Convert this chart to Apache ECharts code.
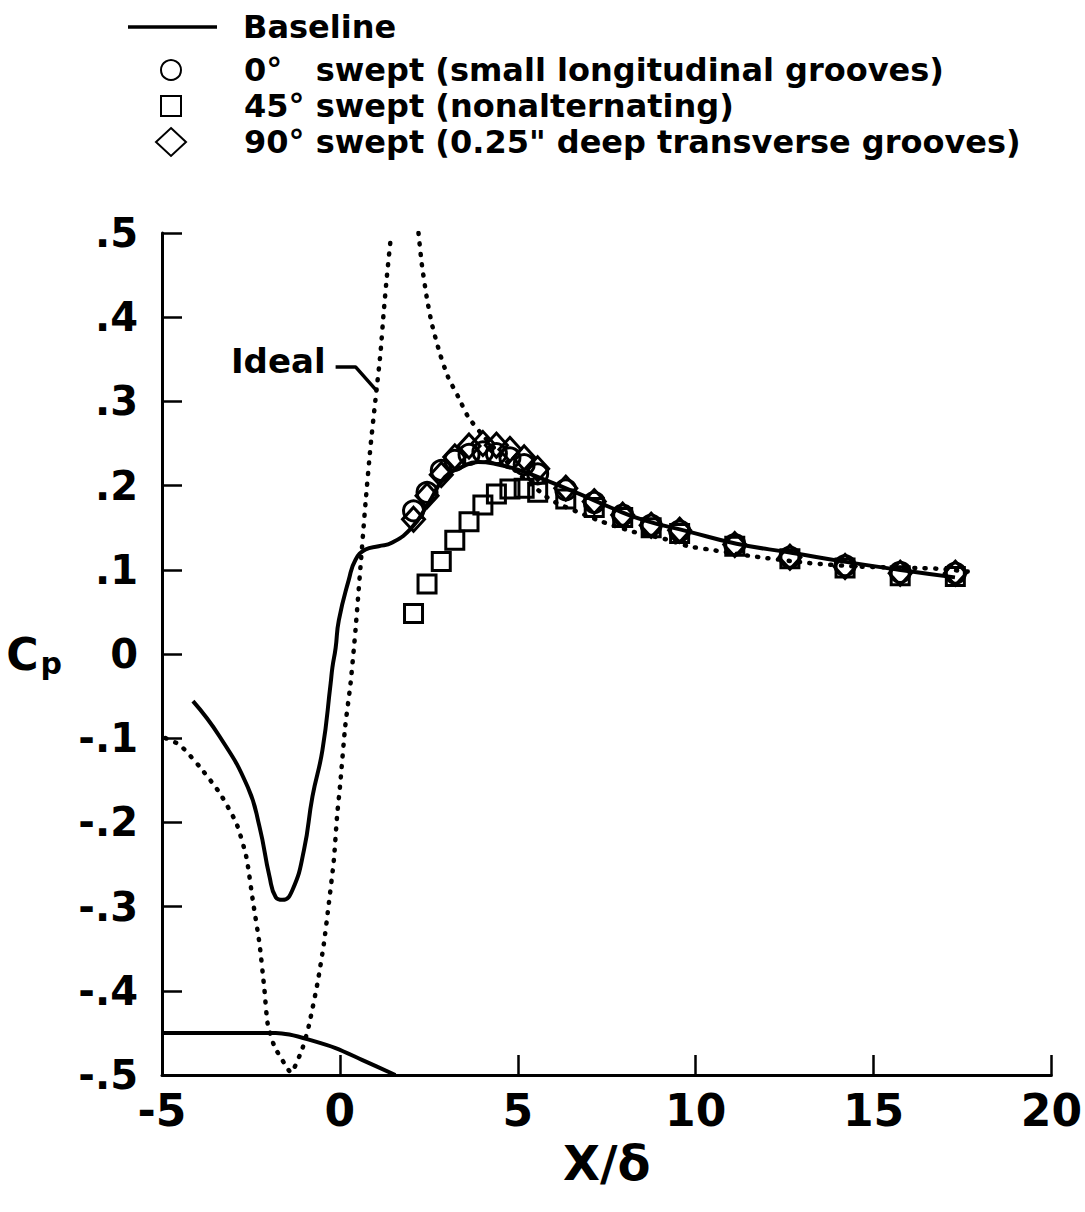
<!DOCTYPE html>
<html>
<head>
<meta charset="utf-8">
<script src="https://cdn.jsdelivr.net/npm/echarts@6/dist/echarts.min.js"></script>
<style>
html,body{margin:0;padding:0;background:#fff;}
#chart{width:1085px;height:1212px;}
</style>
</head>
<body>
<div id="chart"></div>
<script>
// ---- data ----
const xTickLabels = ['-5', '0', '5', '10', '15', '20'];
const yTickLabels = ['-.5', '-.4', '-.3', '-.2', '-.1', '0', '.1', '.2', '.3', '.4', '.5'];

const baselineX = [-4.13, -3.38, -2.59, -2.26, -1.98, -1.80, -1.61, -1.33, -1.01, -0.77, -0.49, -0.26, -0.21, -0.12, -0.03, 0.25, 0.44, 0.72, 1.09, 1.46, 2.02, 2.49, 2.95, 3.42, 3.88, 4.35, 5.0, 5.75, 6.68, 7.61, 8.54, 9.75, 11.15, 12.73, 14.13, 15.71, 17.29];
const baselineY = [-0.056, -0.098, -0.158, -0.205, -0.264, -0.289, -0.292, -0.280, -0.233, -0.169, -0.114, -0.035, -0.016, 0.007, 0.040, 0.088, 0.112, 0.124, 0.128, 0.132, 0.150, 0.179, 0.210, 0.222, 0.228, 0.226, 0.219, 0.207, 0.191, 0.174, 0.159, 0.146, 0.131, 0.120, 0.110, 0.100, 0.091];

// ideal (inviscid) curve: left branch, then right branch (singular in between)
const idealLeftX = [-4.9, -4.5, -3.94, -3.38, -2.91, -2.63, -2.45, -2.26, -2.12, -2.03, -1.84, -1.52, -1.38, -1.05, -0.87, -0.63, -0.45, -0.31, -0.17, -0.08, 0.01, 0.15, 0.30, 0.39, 0.44, 0.58, 0.72, 0.86, 1.00, 1.14, 1.23, 1.32, 1.42];
const idealLeftY = [-0.100, -0.108, -0.134, -0.165, -0.201, -0.241, -0.292, -0.344, -0.399, -0.439, -0.466, -0.489, -0.497, -0.468, -0.441, -0.391, -0.344, -0.296, -0.245, -0.193, -0.154, -0.086, -0.035, 0.005, 0.029, 0.104, 0.179, 0.246, 0.302, 0.357, 0.405, 0.448, 0.490];
const idealRightX = [2.21, 2.30, 2.44, 2.58, 2.81, 3.04, 3.32, 3.60, 3.97, 4.5, 5.0, 5.93, 6.72, 7.38, 8.26, 9.19, 9.79, 10.40, 11.61, 13.19, 14.5, 16.36, 16.91, 17.85];
const idealRightY = [0.500, 0.464, 0.424, 0.393, 0.357, 0.329, 0.306, 0.282, 0.262, 0.237, 0.215, 0.183, 0.168, 0.157, 0.145, 0.136, 0.128, 0.124, 0.116, 0.108, 0.104, 0.102, 0.101, 0.097];

// model contour near the bottom
const contourX = [-5, -1.80, -1.42, -0.87, -0.12, 0.62, 1.56];
const contourY = [-0.450, -0.450, -0.452, -0.458, -0.468, -0.482, -0.500];

// measured points
const measX = [2.07, 2.45, 2.85, 3.23, 3.63, 4.02, 4.40, 4.78, 5.18, 5.56, 6.35, 7.15, 7.95, 8.75, 9.55, 11.1, 12.65, 14.2, 15.75, 17.3];
const sweep0Y  = [0.170, 0.192, 0.218, 0.230, 0.237, 0.240, 0.238, 0.233, 0.225, 0.214, 0.195, 0.180, 0.165, 0.153, 0.146, 0.130, 0.115, 0.105, 0.097, 0.096];
const sweep45Y = [0.048, 0.083, 0.110, 0.135, 0.157, 0.177, 0.190, 0.196, 0.197, 0.192, 0.184, 0.174, 0.162, 0.150, 0.143, 0.128, 0.113, 0.102, 0.093, 0.092];
const sweep90Y = [0.160, 0.188, 0.213, 0.234, 0.247, 0.250, 0.248, 0.243, 0.233, 0.220, 0.197, 0.181, 0.165, 0.153, 0.147, 0.130, 0.115, 0.104, 0.096, 0.096];

// "Ideal" annotation leader line
const leaderX = [-0.12, 0.44, 1.05];
const leaderY = [0.341, 0.341, 0.312];

const seriesNames = ['Baseline', '0°   swept (small longitudinal grooves)', '45° swept (nonalternating)', '90° swept (0.25" deep transverse grooves)'];

// ---- build ----
const zip = (xs, ys) => xs.map((x, i) => [x, ys[i]]);
const FONT = 'DejaVu Sans';
const hollow = { color: 'rgba(0,0,0,0)', borderColor: '#000', borderWidth: 3, opacity: 1 };
const legendText = { fontFamily: FONT, fontSize: 32, fontWeight: 'bold', color: '#000', lineHeight: 32 };

const chart = echarts.init(document.getElementById('chart'), null, { renderer: 'svg' });
chart.setOption({
  animation: false,
  backgroundColor: '#fff',
  textStyle: { fontFamily: FONT, color: '#000', fontWeight: 'bold' },
  grid: { left: 162, right: 28, top: 233, bottom: 137, containLabel: false },
  legend: [
    {
      data: [{ name: seriesNames[0], icon: 'rect', itemStyle: { color: '#000', borderWidth: 0 } }],
      orient: 'vertical', left: 128, top: 11, padding: 0,
      itemWidth: 89, itemHeight: 3.5,
      textStyle: Object.assign({}, legendText, { padding: [0, 0, 0, 21] })
    },
    {
      data: [seriesNames[1], seriesNames[2]], orient: 'vertical', left: 160, top: 54, padding: 0,
      itemWidth: 20, itemHeight: 20, itemGap: 4,
      textStyle: Object.assign({}, legendText, { padding: [0, 0, 0, 58] })
    },
    {
      data: [seriesNames[3]], orient: 'vertical', left: 155, top: 126, padding: 0,
      itemWidth: 30, itemHeight: 28,
      textStyle: Object.assign({}, legendText, { padding: [0, 0, 0, 53] })
    }
  ],
  xAxis: {
    type: 'value', min: -5, max: 20, interval: 5,
    name: 'X/δ', nameLocation: 'middle', nameGap: 64,
    nameTextStyle: { fontFamily: FONT, fontSize: 48, fontWeight: 'bold', color: '#000' },
    axisLine: { show: true, onZero: false, lineStyle: { color: '#000', width: 3 } },
    axisTick: { show: true, inside: true, length: 20, lineStyle: { color: '#000', width: 2.5 } },
    axisLabel: {
      margin: 13, fontFamily: FONT, fontSize: 44, fontWeight: 'bold', color: '#000',
      formatter: v => xTickLabels[Math.round((v + 5) / 5)]
    },
    splitLine: { show: false }
  },
  yAxis: {
    type: 'value', min: -0.5, max: 0.5, interval: 0.1,
    name: '{c|C}{p|p}', nameLocation: 'middle', nameRotate: 0, nameGap: 100,
    nameTextStyle: {
      rich: {
        c: { fontFamily: FONT, fontSize: 44, fontWeight: 'bold', color: '#000' },
        p: { fontFamily: FONT, fontSize: 30, fontWeight: 'bold', color: '#000', padding: [18, 0, 0, 2] }
      }
    },
    axisLine: { show: true, onZero: false, lineStyle: { color: '#000', width: 3 } },
    axisTick: { show: true, inside: true, length: 20, lineStyle: { color: '#000', width: 2.5 } },
    axisLabel: {
      margin: 24, fontFamily: FONT, fontSize: 40, fontWeight: 'bold', color: '#000',
      formatter: v => yTickLabels[Math.round(v * 10) + 5]
    },
    splitLine: { show: false }
  },
  series: [
    {
      name: 'contour', type: 'line', data: zip(contourX, contourY), smooth: 0.3,
      symbol: 'none', lineStyle: { color: '#000', width: 4 }, z: 2
    },
    {
      name: 'Ideal', type: 'line', data: zip(idealLeftX, idealLeftY).concat([['-', '-']], zip(idealRightX, idealRightY)),
      smooth: 0.2, connectNulls: false, symbol: 'none',
      lineStyle: { color: '#000', width: 4.5, type: [1, 9.5], cap: 'round', join: 'round' }, z: 2
    },
    {
      name: 'leader', type: 'line', data: zip(leaderX, leaderY), symbol: 'none',
      lineStyle: { color: '#000', width: 3.5 }, z: 2
    },
    {
      name: 'idealLabel', type: 'scatter', data: [[leaderX[0], leaderY[0]]], symbolSize: 0,
      itemStyle: { opacity: 1 },
      label: { show: true, position: 'left', distance: 10, formatter: 'Ideal', fontFamily: FONT, fontSize: 34, fontWeight: 'bold', color: '#000', opacity: 1, offset: [0, -6] },
      z: 3
    },
    {
      name: seriesNames[0], type: 'line', data: zip(baselineX, baselineY), smooth: 0.5,
      symbol: 'none', lineStyle: { color: '#000', width: 4 }, itemStyle: { color: '#000' }, z: 3
    },
    {
      name: seriesNames[1], type: 'scatter', data: zip(measX, sweep0Y),
      symbol: 'circle', symbolSize: 20, itemStyle: hollow, z: 4
    },
    {
      name: seriesNames[2], type: 'scatter', data: zip(measX, sweep45Y),
      symbol: 'rect', symbolSize: 18, itemStyle: hollow, z: 4
    },
    {
      name: seriesNames[3], type: 'scatter', data: zip(measX, sweep90Y),
      symbol: 'diamond', symbolSize: [22, 24], itemStyle: hollow, z: 4
    }
  ]
});
</script>
</body>
</html>
